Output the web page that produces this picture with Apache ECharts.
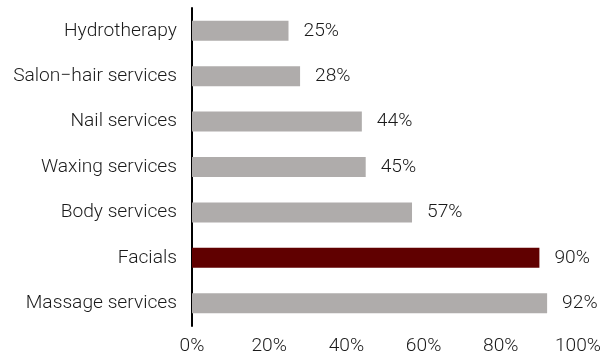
<!DOCTYPE html>
<html>
<head>
<meta charset="utf-8">
<script src="https://cdn.jsdelivr.net/npm/echarts@6/dist/echarts.min.js"></script>
<style>
  html, body { margin: 0; padding: 0; background: #fff; }
  #chart { width: 616px; height: 360px; }
</style>
</head>
<body>
<div id="chart"></div>
<script>
// Spa services offered, share of respondents (top category first)
const categories = ['Hydrotherapy', 'Salon\u2212hair services', 'Nail services', 'Waxing services', 'Body services', 'Facials', 'Massage services'];
const values = [25, 28, 44, 45, 57, 90, 92];
const highlighted = 'Facials';
const xTicks = [0, 20, 40, 60, 80, 100];

const FONT = 'Roboto, "Noto Sans", sans-serif';
const GREY = '#afacab';
const DARK = '#600000';

const textStyle = { fontFamily: FONT, fontSize: 19.2, fontWeight: 300, color: '#1a1a1a' };

const chart = echarts.init(document.getElementById('chart'), null, { renderer: 'canvas' });

chart.setOption({
  animation: false,
  grid: { left: 192, right: 38, top: 8, bottom: 34, containLabel: false },
  xAxis: {
    type: 'value',
    min: xTicks[0],
    max: xTicks[xTicks.length - 1],
    interval: xTicks[1] - xTicks[0],
    axisLine: { show: false },
    axisTick: { show: false },
    splitLine: { show: false },
    axisLabel: Object.assign({ formatter: v => v + '%', margin: 11 }, textStyle)
  },
  yAxis: {
    type: 'category',
    data: categories,
    inverse: true,
    axisLine: { show: true, lineStyle: { color: '#000', width: 2 } },
    axisTick: { show: false },
    axisLabel: Object.assign({ margin: 15 }, textStyle)
  },
  series: [{
    type: 'bar',
    barWidth: 20,
    data: values.map((v, i) => ({
      value: v,
      itemStyle: { color: categories[i] === highlighted ? DARK : GREY }
    })),
    label: Object.assign({
      show: true,
      position: 'right',
      distance: 15,
      formatter: p => p.value + '%'
    }, textStyle)
  }]
});
</script>
</body>
</html>
